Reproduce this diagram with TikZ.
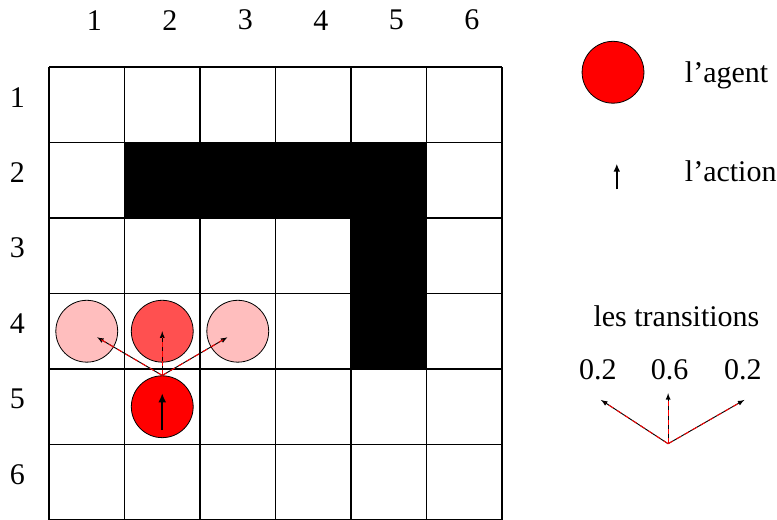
\documentclass[tikz,border=0pt]{standalone}
\usepackage{fontspec}
\setmainfont{Liberation Serif}
\usetikzlibrary{arrows.meta, positioning, calc}
\definecolor{agentred}{RGB}{255,0,0}
\definecolor{likelyred}{RGB}{255,80,80}
\definecolor{unlikelyred}{RGB}{255,190,190}
\tikzset{
  pawn/.style={circle, draw, line width=0.6pt, minimum size=46.4pt, inner sep=0pt},
  trans/.style={->, >=latex, line width=0.7pt},
  transdash/.style={red, line width=0.7pt, dash pattern=on 4pt off 3pt},
}

\begin{document}
\begin{tikzpicture}[x=56.625pt, y=56.625pt, font=\fontsize{22.5}{27}\selectfont]
    \useasboundingbox (-0.649,0) rectangle (9.642,6.887);
    % murs
    \fill (1,4) rectangle (5,5);
    \fill (4,2) rectangle (5,4);
    \foreach \k in {0,...,6} {
        \draw[line width=1.1pt] (\k,0) -- (\k,6);
        \draw[line width=1.1pt] (0,\k) -- (6,\k);
    }
    % numeros
    \node (c1) at (0.6,6.62) {1};
    \node (c2) at (1.6,6.62) {2};
    \node (c3) at (2.6,6.62) {3};
    \node (c4) at (3.6,6.62) {4};
    \node (c5) at (4.6,6.62) {5};
    \node (c6) at (5.6,6.62) {6};
    \node (r1) at (-0.42,5.6) {1};
    \node (r2) at (-0.42,4.6) {2};
    \node (r3) at (-0.42,3.6) {3};
    \node (r4) at (-0.42,2.6) {4};
    \node (r5) at (-0.42,1.6) {5};
    \node (r6) at (-0.42,0.6) {6};
    % agent et etats suivants
    \node[pawn, fill=unlikelyred] (left) at (0.5,2.5) {};
    \node[pawn, fill=likelyred] (ahead) at (1.5,2.5) {};
    \node[pawn, fill=unlikelyred] (right) at (2.5,2.5) {};
    \node[pawn, fill=agentred] (agent) at (1.5,1.5) {};
    \coordinate (act0) at (1.5,1.19);
    \coordinate (act1) at (1.5,1.68);
    \draw[->, >={Latex[length=7pt,width=6pt]}, line width=1.6pt] (act0) -- (act1);
    \draw[trans, shorten >=9pt] (agent.north) -- (left.center);
    \draw[transdash, shorten >=12pt] (agent.north) -- (left.center);
    \draw[trans] (agent.north) -- (ahead.center);
    \draw[transdash, shorten >=4pt] (agent.north) -- (ahead.center);
    \draw[trans, shorten >=9pt] (agent.north) -- (right.center);
    \draw[transdash, shorten >=12pt] (agent.north) -- (right.center);
    % legende
    \node[pawn, fill=agentred] (legagent) at (7.47,5.93) {};
    \node[anchor=west] (txtagent) at (8.36,5.89) {l’agent};
    \coordinate (legact0) at (7.52,4.38);
    \coordinate (legact1) at (7.52,4.72);
    \draw[->, >={Latex[length=6pt,width=5pt]}, line width=1.4pt] (legact0) -- (legact1);
    \node[anchor=west] (txtaction) at (8.36,4.62) {l’action};
    \node (txttrans) at (8.31,2.70) {les transitions};
    \node (p1) at (7.27,1.99) {0.2};
    \node (p2) at (8.22,1.99) {0.6};
    \node (p3) at (9.19,1.99) {0.2};
    \coordinate (o) at (8.2,1.01);
    \coordinate (t1) at (7.31,1.59);
    \coordinate (t2) at (8.2,1.68);
    \coordinate (t3) at (9.21,1.59);
    \draw[trans] (o) -- (t1);
    \draw[transdash, shorten >=4pt] (o) -- (t1);
    \draw[trans] (o) -- (t2);
    \draw[transdash, shorten >=4pt] (o) -- (t2);
    \draw[trans] (o) -- (t3);
    \draw[transdash, shorten >=4pt] (o) -- (t3);
\end{tikzpicture}
\end{document}
